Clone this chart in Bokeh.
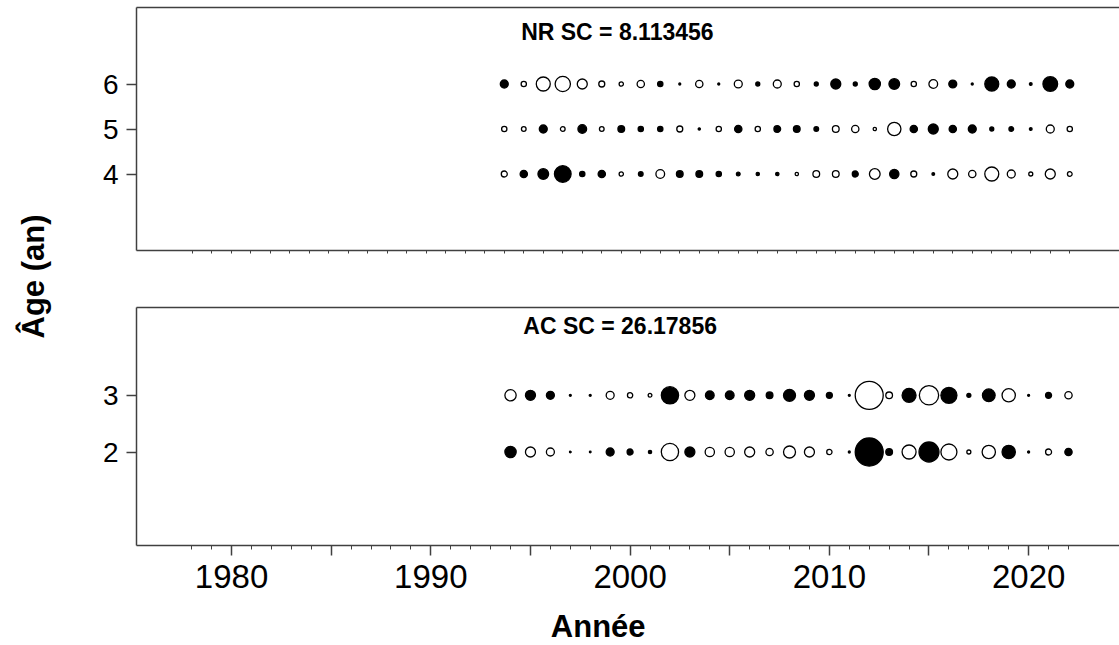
from bokeh.plotting import figure
from bokeh.layouts import row, column
from bokeh.models import Range1d, FixedTicker, LinearAxis, ColumnDataSource, Label
from bokeh.embed import file_html
from bokeh.resources import INLINE
from bokeh.core.properties import value

# ---------------- data ----------------
years_nr = list(range(1993, 2023))
years_ac = list(range(1994, 2023))
ages_nr = [4, 5, 6]
ages_ac = [2, 3]

resid_nr_age4 = [-1.0, 1.22, 1.78, 2.78, 0.88, 1.22, -0.72, 0.78, -1.45, 1.12,
                 1.12, 0.88, 0.62, 0.55, 0.55, -0.55, -1.12, -1.12, 1.0, -1.78,
                 1.55, -1.0, 0.45, -1.67, -1.22, -2.33, -1.33, -0.67, -1.67, -0.78]
resid_nr_age5 = [-0.88, -0.78, 1.33, -0.78, 1.45, -0.78, 1.12, 0.88, 0.88, -1.0,
                 0.38, -0.88, 1.22, -0.88, 1.12, 1.12, 0.78, -1.12, -1.22, -0.55,
                 -2.22, 1.22, 1.67, 1.22, 1.33, 0.67, 0.78, 0.45, -1.33, -0.88]
resid_nr_age6 = [1.33, -0.88, -2.33, -2.55, -1.67, -1.0, -0.72, -1.22, 0.88, 0.33,
                 -1.22, 0.33, -1.33, 0.67, -1.33, -0.88, 0.67, 1.67, 0.67, 1.88,
                 1.78, -0.88, -1.45, 1.33, 0.33, 2.33, 1.33, 0.45, 2.45, 1.33]
resid_ac_age2 = [1.88, -1.67, -1.33, 0.28, 0.28, 1.33, 1.0, 0.55, -2.88, 1.67,
                 -1.55, -1.55, -1.67, -1.22, -2.0, -1.67, -0.88, 0.33, 4.67, 1.12,
                 -2.33, 3.33, -2.67, -0.67, -2.22, 2.22, 0.33, -1.0, 1.22]
resid_ac_age3 = [-1.88, 1.67, 1.33, 0.33, 0.33, -1.33, -0.88, -0.62, 2.88, -1.67,
                 1.45, 1.45, 1.67, 1.12, 2.0, 1.67, 1.0, 0.33, -4.67, -1.12,
                 2.33, -3.22, 2.67, 0.67, 2.12, -2.22, 0.33, 1.0, -1.22]

title_nr = "NR SC = 8.113456"
title_ac = "AC SC = 26.17856"
x_title = "Année"
y_title = "Âge (an)"

nr_minor_ticks = list(range(1977, 2023))
ac_major_ticks = list(range(1980, 2021, 5))
ac_minor_ticks = list(range(1978, 2023))
ac_tick_labels = {1980: "1980", 1985: " ", 1990: "1990", 1995: " ", 2000: "2000",
                  2005: " ", 2010: "2010", 2015: " ", 2020: "2020"}

# ---------------- style ----------------
FONT = "Liberation Sans"
AXC = "#404040"
BUBBLE_SCALE = 6.0


def base_panel(height, xr, yr, btop, bbottom):
    p = figure(width=1059, height=height, x_range=xr, y_range=yr,
               output_backend="svg", toolbar_location=None,
               x_axis_location=None, y_axis_location=None,
               min_border_left=76, min_border_right=0,
               min_border_top=btop, min_border_bottom=bbottom)
    p.outline_line_color = None
    p.grid.visible = False
    p.background_fill_color = "white"
    p.border_fill_color = "white"
    # top border of the box
    tax = LinearAxis(ticker=FixedTicker(ticks=[]), major_tick_out=0, major_tick_in=0,
                     minor_tick_out=0, minor_tick_in=0, major_label_standoff=0,
                     axis_line_color=AXC, axis_line_width=1.5)
    p.add_layout(tax, "above")
    return p


def left_axis(p, ticks):
    ax = LinearAxis(ticker=FixedTicker(ticks=ticks), major_tick_out=10, major_tick_in=0,
                    minor_tick_out=0, minor_tick_in=0, major_label_standoff=8,
                    major_label_text_font=FONT, major_label_text_font_size="28px",
                    major_label_text_color="black",
                    axis_line_color=AXC, axis_line_width=1.5,
                    major_tick_line_color=AXC, major_tick_line_width=1.5)
    p.add_layout(ax, "left")


def bubbles(p, years, ages, rows):
    xs, ys, sz, fc = [], [], [], []
    for age, rr in zip(ages, rows):
        for yr, r in zip(years, rr):
            xs.append(yr)
            ys.append(age)
            sz.append(BUBBLE_SCALE * abs(r))
            fc.append("black" if r > 0 else "white")
    src = ColumnDataSource(dict(x=xs, y=ys, size=sz, fill=fc))
    p.scatter("x", "y", size="size", fill_color="fill", line_color="black",
              line_width=1.3, source=src)


# ---------------- top panel (NR) ----------------
top = base_panel(280, Range1d(1974.14, 2024.55), Range1d(2.3, 7.7), 7, 30)
left_axis(top, ages_nr)
bax = LinearAxis(ticker=FixedTicker(ticks=[], minor_ticks=nr_minor_ticks),
                 major_tick_out=0, major_tick_in=0, minor_tick_out=3, minor_tick_in=0,
                 major_label_standoff=0,
                 axis_line_color=AXC, axis_line_width=1.5,
                 minor_tick_line_color=AXC, minor_tick_line_width=1)
top.add_layout(bax, "below")
bubbles(top, years_nr, ages_nr, [resid_nr_age4, resid_nr_age5, resid_nr_age6])
top.text(x=[1998.8], y=[7.15], text=[title_nr], text_font=value(FONT),
         text_font_style="bold", text_font_size="23px", text_align="center",
         text_baseline="middle", text_color="black")

# ---------------- bottom panel (AC) ----------------
bot_x = Range1d(1975.23, 2024.56)
bot = base_panel(320, bot_x, Range1d(0.35, 4.55), 27, 55)
left_axis(bot, ages_ac)
bax2 = LinearAxis(ticker=FixedTicker(ticks=ac_major_ticks, minor_ticks=ac_minor_ticks),
                  major_tick_out=10, major_tick_in=0, minor_tick_out=4, minor_tick_in=0,
                  major_label_standoff=2, major_label_overrides=ac_tick_labels,
                  major_label_text_font=FONT, major_label_text_font_size="33px",
                  major_label_text_color="black",
                  axis_line_color=AXC, axis_line_width=1.5,
                  major_tick_line_color=AXC, major_tick_line_width=1.5,
                  minor_tick_line_color=AXC, minor_tick_line_width=1)
bot.add_layout(bax2, "below")
bubbles(bot, years_ac, ages_ac, [resid_ac_age2, resid_ac_age3])
bot.text(x=[1999.5], y=[4.23], text=[title_ac], text_font=value(FONT),
         text_font_style="bold", text_font_size="23px", text_align="center",
         text_baseline="middle", text_color="black")

# ---------------- x title strip ----------------
xlab = figure(width=1059, height=45, x_range=bot_x, y_range=Range1d(0, 45),
              output_backend="svg", toolbar_location=None,
              x_axis_location=None, y_axis_location=None,
              min_border_left=76, min_border_right=0, min_border_top=0, min_border_bottom=0)
xlab.outline_line_color = None
xlab.grid.visible = False
xlab.text(x=[1998.4], y=[19], text=[x_title], text_font=value(FONT),
          text_font_style="bold", text_font_size="31px", text_align="center",
          text_baseline="middle", text_color="black")

# ---------------- y title column ----------------
lab = figure(width=60, height=645, x_range=Range1d(0, 1), y_range=Range1d(0, 1),
             output_backend="svg", toolbar_location=None,
             x_axis_location=None, y_axis_location=None,
             min_border_left=0, min_border_right=0, min_border_top=0, min_border_bottom=0)
lab.outline_line_color = None
lab.grid.visible = False
lab.add_layout(Label(x=33, y=645 - 276, x_units="screen", y_units="screen", text=y_title,
                     angle=90, angle_units="deg", text_font=FONT, text_font_style="bold",
                     text_font_size="31px", text_align="center", text_baseline="middle",
                     text_color="black"))

layout = row(lab, column(top, bot, xlab, spacing=0), spacing=0)

open("out.html", "w").write(file_html(layout, INLINE))
